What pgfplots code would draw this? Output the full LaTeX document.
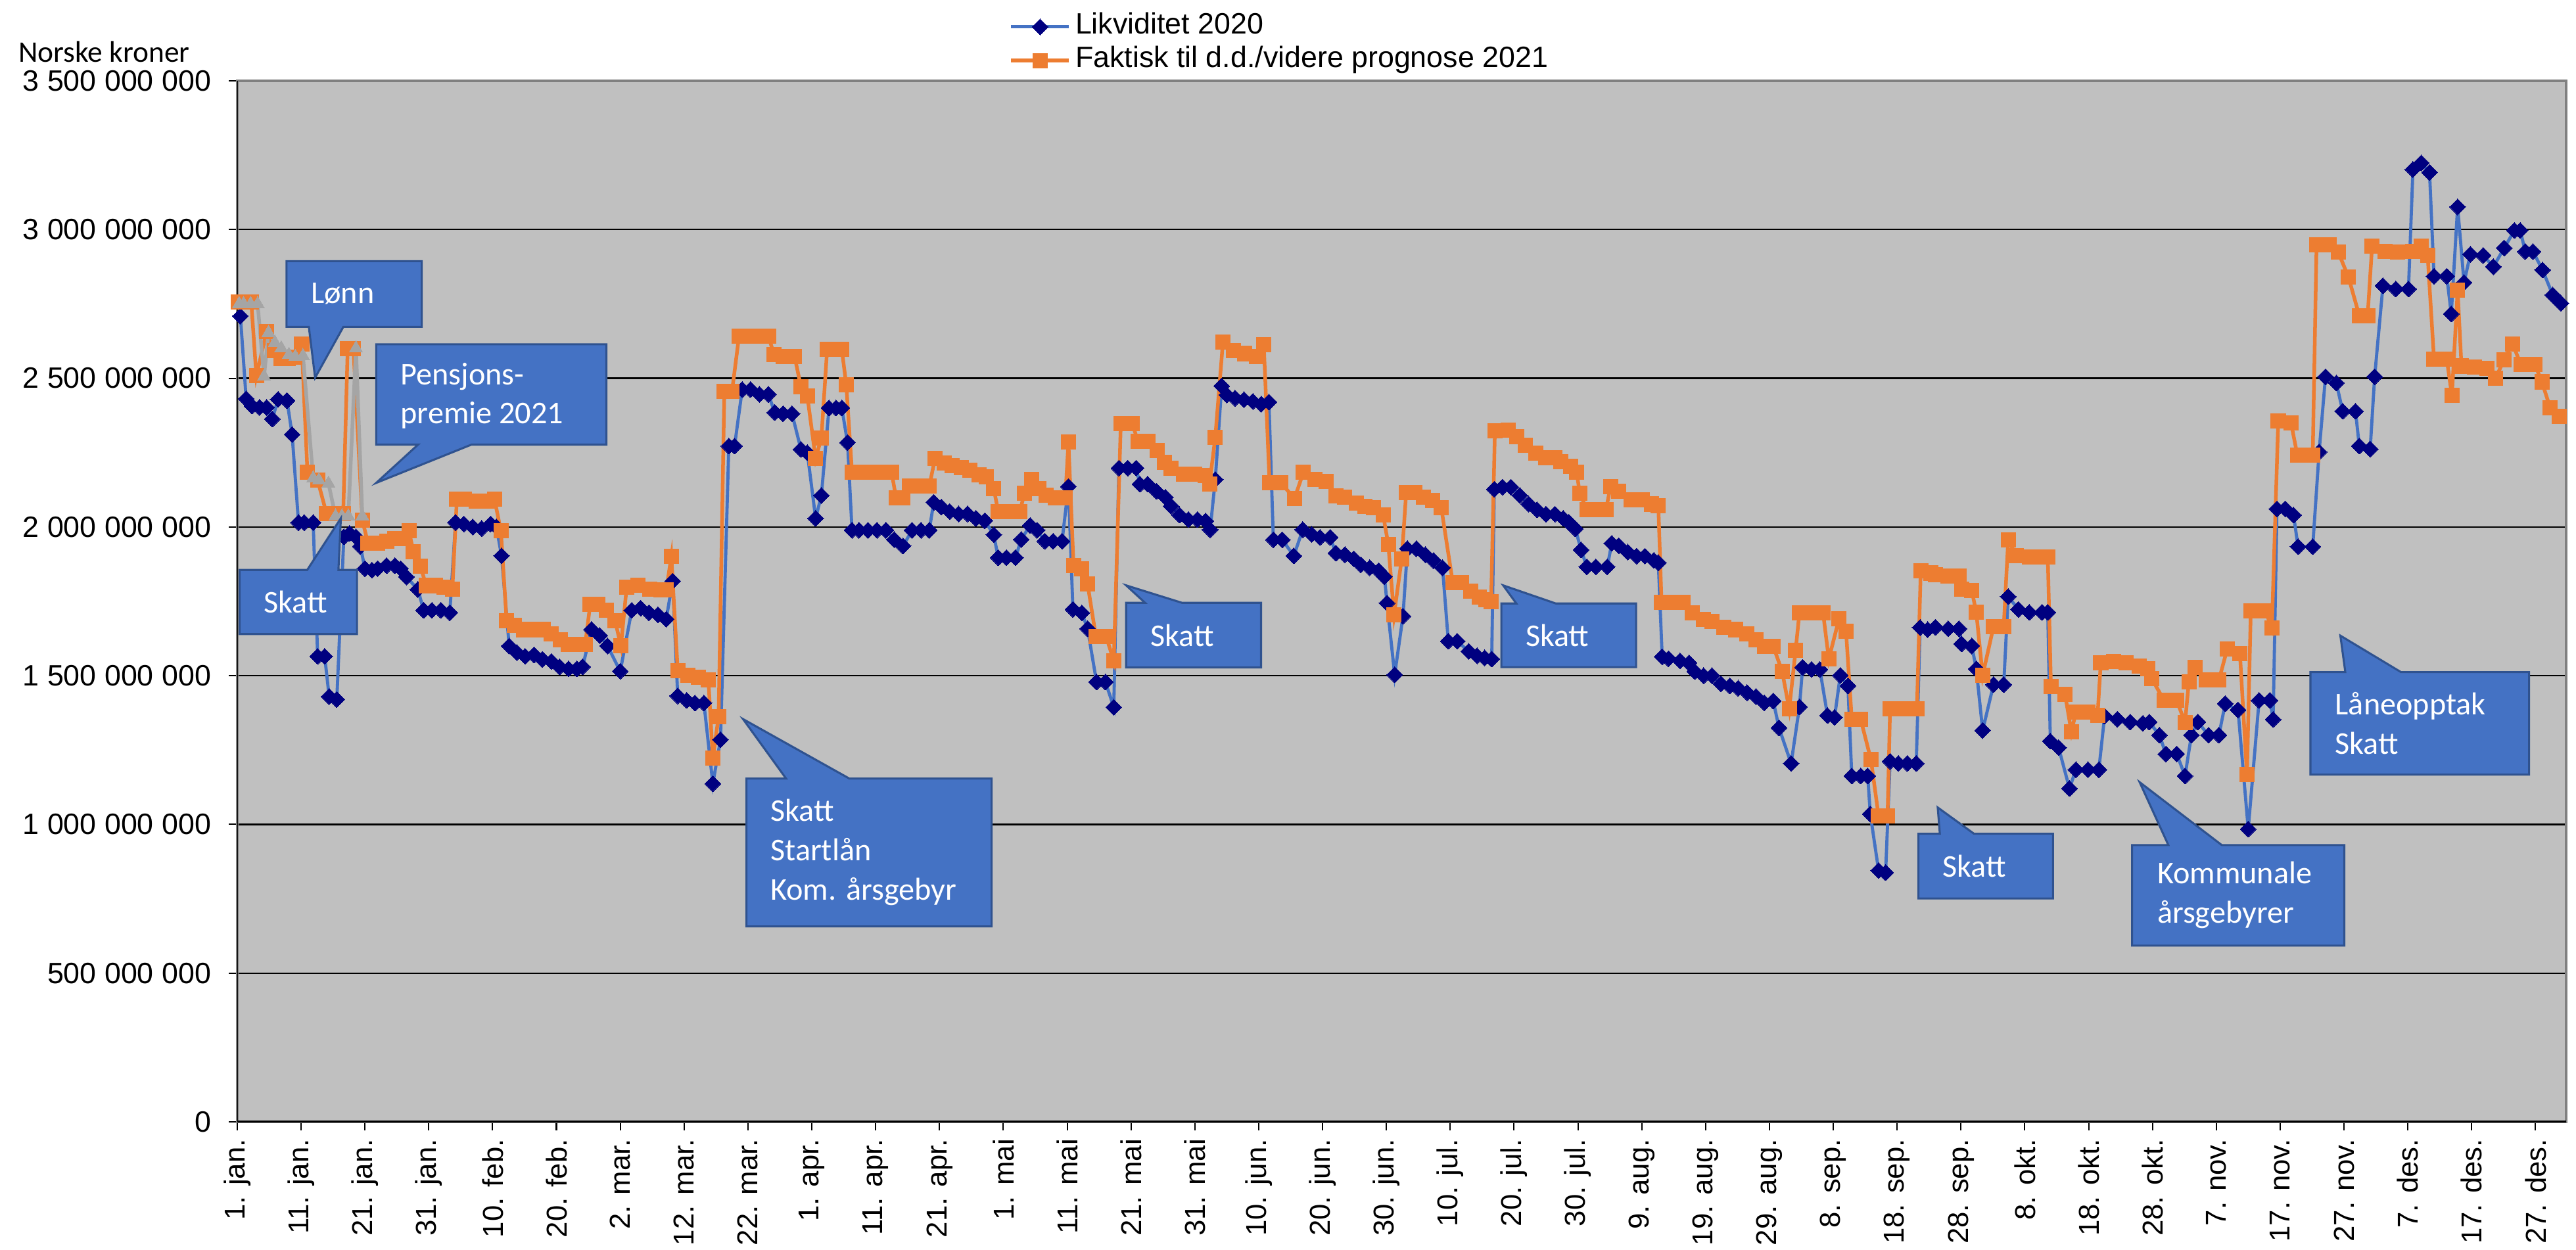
\documentclass[border=0pt]{standalone}
\usepackage{fontspec}
\setmainfont{Liberation Sans}
\newfontfamily\calloutfont{Carlito}
\usepackage{pgfplots}
\usepackage{pgfplotstable}
\pgfplotsset{compat=1.18}
\definecolor{bgGray}{HTML}{C0C0C0}
\definecolor{lineBlue}{HTML}{4472C4}
\definecolor{markNavy}{HTML}{000080}
\definecolor{orng}{HTML}{ED7D31}
\definecolor{gry}{HTML}{A5A5A5}
\definecolor{boxBlue}{HTML}{4472C4}
\definecolor{boxEdge}{HTML}{2F528F}
\definecolor{frameGray}{HTML}{808080}

\pgfplotstableread{
day val
0.5 2709
1.4 2431
2.3 2407
3.5 2402
4.6 2402
5.5 2363
6.4 2429
7.8 2425
8.6 2311
9.6 2015
10.5 2015
11.9 2015
12.6 1565
13.7 1565
14.4 1430
15.6 1420
16.7 1967
17.6 1978
18.6 1967
19.3 1935
20.0 1860
21.1 1855
22.0 1860
23.4 1870
24.7 1870
25.6 1860
26.5 1832
28.3 1790
29.2 1720
30.5 1720
31.9 1720
33.3 1712
34.2 2015
35.5 2010
36.9 2000
38.3 1995
39.7 2010
40.6 2000
41.4 1903
42.6 1600
43.8 1578
45.1 1565
46.5 1570
47.8 1555
49.2 1548
50.5 1530
51.9 1523
53.2 1523
54.1 1530
55.5 1655
56.8 1635
58.0 1600
60.0 1515
61.8 1720
63.2 1727
64.5 1712
65.9 1705
67.2 1690
68.2 1818
69.0 1432
70.4 1417
71.7 1408
73.1 1408
74.5 1137
75.7 1285
77.0 2272
77.9 2272
79.1 2462
80.4 2462
81.8 2446
83.2 2446
84.2 2385
85.5 2381
86.9 2381
88.3 2261
89.3 2250
90.6 2029
91.5 2106
92.7 2400
93.8 2400
94.7 2400
95.6 2284
96.3 1989
97.4 1989
98.8 1989
100.2 1989
101.6 1989
102.9 1958
104.3 1936
105.7 1989
107.1 1989
108.4 1989
109.1 2083
110.3 2067
111.6 2052
113.0 2044
114.4 2044
115.7 2029
117.1 2021
118.5 1974
119.2 1897
120.5 1897
121.9 1897
122.8 1958
124.2 2005
125.3 1989
126.5 1952
127.8 1952
129.2 1952
130.2 2136
130.9 1723
132.3 1711
133.2 1658
134.6 1479
136.0 1479
137.3 1394
138.1 2198
139.5 2198
140.8 2198
141.4 2144
142.6 2144
144.0 2120
145.4 2100
146.3 2070
147.6 2040
149.0 2025
150.4 2025
151.7 2020
152.4 1991
153.2 2159
154.2 2474
155.0 2444
156.3 2433
157.7 2428
159.1 2422
160.4 2413
161.6 2420
162.3 1957
163.7 1957
165.5 1903
166.9 1991
168.3 1975
169.6 1965
171.2 1965
172.1 1912
173.5 1907
174.9 1893
176.0 1873
177.4 1863
178.8 1853
179.7 1833
180.1 1744
181.3 1503
182.6 1700
183.3 1927
184.7 1927
186.1 1907
187.4 1887
188.8 1863
189.7 1616
191.1 1616
192.9 1582
194.2 1567
195.4 1560
196.5 1556
196.9 2127
198.2 2134
199.5 2134
200.9 2106
202.3 2077
203.6 2058
205.0 2043
206.4 2043
207.7 2029
208.6 2015
209.6 1994
210.5 1923
211.4 1866
212.8 1866
214.6 1866
215.3 1945
216.4 1937
217.8 1916
219.2 1902
220.5 1902
221.9 1888
222.6 1880
223.2 1564
224.2 1557
226.0 1550
227.4 1543
228.3 1514
229.7 1500
231.0 1500
232.4 1473
233.8 1466
235.1 1458
236.5 1443
237.9 1430
239.2 1409
240.6 1415
241.5 1325
243.4 1205
244.7 1395
245.2 1528
246.6 1521
247.9 1521
249.1 1366
250.2 1360
251.1 1501
252.3 1466
252.9 1163
254.3 1163
255.4 1163
255.8 1035
257.1 845
258.2 838
258.9 1212
260.2 1205
261.6 1205
263.0 1205
263.6 1662
264.8 1655
266.0 1663
268.0 1658
269.7 1658
270.1 1607
271.7 1600
272.4 1523
273.4 1316
275.1 1470
276.7 1470
277.4 1766
279.0 1723
280.7 1713
282.7 1713
283.6 1713
284.0 1280
285.3 1258
287.0 1121
288.0 1184
289.9 1184
291.6 1184
292.5 1364
294.5 1354
296.5 1344
298.5 1340
299.5 1344
301.1 1300
302.1 1237
303.8 1237
305.1 1163
306.1 1300
307.1 1344
308.8 1300
310.4 1300
311.4 1406
313.4 1385
315.0 984
316.7 1417
318.4 1417
318.9 1353
319.5 2061
320.8 2061
322.1 2040
322.8 1934
325.1 1934
326.1 2252
327.1 2505
328.8 2484
329.8 2389
331.8 2389
332.4 2272
334.1 2262
334.8 2505
336.1 2811
338.1 2800
340.1 2800
340.8 3202
342.1 3224
343.4 3192
344.1 2843
346.1 2843
346.8 2716
347.8 3076
348.8 2822
349.8 2917
351.8 2913
353.4 2875
355.1 2938
356.7 2997
357.6 2997
358.4 2926
359.6 2926
361.1 2864
362.7 2780
364.0 2752
}\likviditet

\pgfplotstableread{
day val
0.2 2756
1.2 2756
2.2 2756
3.0 2508
4.6 2656
5.8 2592
6.9 2566
8.0 2566
9.0 2570
10.1 2614
11.0 2184
12.6 2157
14.0 2044
15.6 2044
16.6 2044
17.3 2600
18.2 2600
19.6 2022
20.5 1945
22.0 1945
23.4 1952
24.7 1960
26.1 1960
26.9 1987
27.6 1916
28.7 1868
29.6 1803
31.0 1803
32.4 1797
33.7 1790
34.4 2093
35.6 2093
37.4 2086
39.2 2086
40.3 2093
41.3 1987
42.2 1684
43.4 1670
44.8 1655
46.6 1655
47.9 1655
49.2 1640
50.6 1620
51.9 1605
53.3 1605
54.5 1605
55.3 1741
56.5 1741
57.8 1720
59.2 1684
60.1 1600
61.0 1797
62.8 1805
64.6 1790
66.4 1788
67.2 1788
68.0 1901
69.0 1517
70.6 1501
72.2 1494
73.8 1487
74.5 1223
75.4 1362
76.3 2455
77.5 2455
78.6 2641
80.0 2641
81.4 2641
83.2 2641
84.1 2579
85.5 2574
87.3 2574
88.3 2471
89.3 2440
90.6 2230
91.5 2299
92.4 2597
93.8 2597
94.7 2597
95.4 2478
96.3 2184
97.9 2184
99.3 2184
101.1 2184
102.5 2184
103.2 2098
104.3 2098
105.3 2137
106.6 2137
108.4 2137
109.3 2230
110.7 2215
112.0 2206
113.4 2199
114.8 2191
116.2 2175
117.3 2168
118.5 2129
119.2 2052
120.8 2052
122.6 2052
123.3 2113
124.4 2160
125.6 2129
126.7 2106
128.1 2098
129.7 2098
130.2 2285
131.0 1870
132.3 1860
133.2 1808
134.5 1632
136.1 1632
137.3 1550
138.4 2347
140.2 2348
141.1 2287
142.7 2287
144.1 2257
145.2 2218
146.3 2198
148.2 2178
150.0 2178
151.6 2173
152.3 2144
153.2 2302
154.4 2622
156.0 2593
157.8 2583
159.7 2573
160.8 2612
161.7 2149
163.5 2149
165.6 2095
167.0 2184
168.8 2159
170.6 2154
172.1 2104
173.4 2100
175.3 2080
176.6 2070
178.0 2065
179.5 2040
180.3 1941
181.2 1705
182.4 1892
183.1 2115
184.5 2115
185.8 2100
187.2 2090
188.6 2065
190.4 1813
191.8 1813
193.2 1784
194.6 1764
195.6 1755
196.4 1749
197.0 2323
199.1 2325
200.4 2303
201.8 2275
203.4 2248
205.0 2233
206.4 2233
207.3 2219
208.9 2205
209.8 2184
210.3 2113
211.4 2058
212.8 2058
214.4 2058
215.1 2135
216.4 2121
218.3 2092
220.1 2092
221.5 2077
222.6 2071
223.1 1747
224.7 1747
226.5 1747
227.9 1712
229.7 1690
231.0 1683
232.9 1662
234.7 1655
236.5 1641
237.9 1620
239.2 1599
240.6 1599
242.0 1514
243.1 1388
244.1 1585
244.7 1712
246.6 1712
248.4 1712
249.3 1556
250.9 1691
252.0 1649
252.9 1353
254.3 1353
255.9 1218
257.1 1028
258.5 1028
258.9 1388
260.8 1388
263.1 1388
263.7 1852
265.3 1845
266.0 1840
268.0 1835
269.7 1835
270.1 1790
271.7 1786
272.4 1713
273.4 1501
275.1 1665
276.7 1665
277.4 1956
278.7 1903
280.7 1900
282.7 1900
283.6 1900
284.1 1463
286.3 1438
287.3 1311
288.0 1377
289.9 1377
291.4 1367
291.9 1543
293.9 1547
295.9 1543
297.9 1533
299.3 1523
299.9 1490
301.8 1417
303.8 1417
305.1 1342
305.7 1480
306.7 1527
308.4 1485
310.4 1485
311.7 1589
313.7 1575
314.8 1167
315.4 1717
317.7 1717
318.7 1660
319.7 2357
321.7 2350
322.7 2241
325.1 2241
325.7 2949
327.7 2949
329.1 2924
330.7 2840
332.4 2710
333.7 2710
334.4 2944
336.4 2927
338.4 2924
340.8 2927
342.1 2944
343.1 2913
344.1 2564
346.1 2564
346.9 2442
347.8 2797
348.4 2541
350.4 2537
352.4 2533
353.7 2500
355.1 2562
356.4 2616
357.7 2546
359.9 2546
361.0 2488
362.3 2400
363.7 2372
}\faktisk

\pgfplotstableread{
day val
0.3 2750
1.0 2750
2.1 2750
3.2 2750
4.2 2506
4.9 2653
5.9 2620
6.9 2601
8.1 2579
9.1 2572
10.3 2575
11.9 2164
12.8 2157
14.3 2146
15.4 2036
16.4 2036
17.4 2036
18.6 2601
19.6 2036
}\graa

\newcommand{\boxdown}[8]{% x1 y1 x2 y2 b1 b2 tipx tipy (pointer at bottom)
  \path[fill=boxBlue, draw=boxEdge, line width=0.9pt, line join=miter]
    (#1,#2) -- (#3,#2) -- (#3,#4) -- (#6,#4) -- (#7,#8) -- (#5,#4) -- (#1,#4) -- cycle;}
\newcommand{\boxup}[8]{% x1 y1 x2 y2 b1 b2 tipx tipy (pointer at top)
  \path[fill=boxBlue, draw=boxEdge, line width=0.9pt, line join=miter]
    (#1,#2) -- (#5,#2) -- (#7,#8) -- (#6,#2) -- (#3,#2) -- (#3,#4) -- (#1,#4) -- cycle;}
\newcommand{\boxtext}[3]{\node[anchor=west, inner sep=0pt, text=white, align=left,
  font=\calloutfont\fontsize{14pt}{17.4pt}\selectfont] at (#1,#2) {#3};}

\begin{document}
\begin{tikzpicture}
\begin{axis}[
  scale only axis, width=361.63mm, height=161.68mm,
  xmin=0, xmax=364.8, ymin=0, ymax=3500,
  axis background/.style={fill=bgGray},
  axis line style={draw=frameGray, line width=1.1pt},
  ymajorgrids, major grid style={black, line width=0.7pt},
  xtick={0,10,...,360},
  xticklabels={1. jan.,11. jan.,21. jan.,31. jan.,10. feb.,20. feb.,2. mar.,12. mar.,22. mar.,1. apr.,11. apr.,21. apr.,1. mai,11. mai,21. mai,31. mai,10. jun.,20. jun.,30. jun.,10. jul.,20. jul.,30. jul.,9. aug.,19. aug.,29. aug.,8. sep.,18. sep.,28. sep.,8. okt.,18. okt.,28. okt.,7. nov.,17. nov.,27. nov.,7. des.,17. des.,27. des.},
  ytick={0,500,...,3500},
  yticklabels={0,500 000 000,1 000 000 000,1 500 000 000,2 000 000 000,2 500 000 000,3 000 000 000,3 500 000 000},
  tick pos=left, tick align=outside, major tick length=1.3mm,
  tick style={black, line width=0.6pt},
  xticklabel style={rotate=90, anchor=east, inner sep=0pt, font=\fontsize{12.7pt}{14pt}\selectfont},
  xticklabel shift=1.3mm,
  yticklabel style={anchor=east, inner sep=0pt, font=\fontsize{13pt}{15pt}\selectfont},
  yticklabel shift=2.7mm,
  ylabel={Norske kroner},
  ylabel style={rotate=-90, anchor=base west, inner sep=0pt, at={(axis description cs:-0.0941,1.0177)}, font=\calloutfont\fontsize{13.2pt}{15pt}\selectfont},
  legend style={at={(axis description cs:0.3313,1)}, anchor=south west, yshift=0.45mm,
    draw=none, fill=none, inner sep=0pt, row sep=0pt,
    font=\fontsize{13pt}{15pt}\selectfont,
    nodes={inner ysep=0pt, text height=10.5pt, text depth=4.4pt}},
  legend cell align=left,
  legend image code/.code={\draw[mark repeat=2, mark phase=2, #1] plot coordinates {(0mm,0mm) (4.5mm,0mm) (9.0mm,0mm)};},
]
\addplot[color=lineBlue, line width=1.4pt, mark=square*, mark size=2.5pt,
  mark options={rotate=45, fill=markNavy, draw=markNavy, line width=0pt}] table[x=day, y=val] {\likviditet};
\addlegendentry{Likviditet 2020}
\addplot[color=orng, line width=1.6pt, mark=square*, mark size=3.2pt,
  mark options={fill=orng, draw=orng, line width=0pt}] table[x=day, y=val] {\faktisk};
\addlegendentry{Faktisk til d.d./videre prognose 2021}
\addplot[forget plot, color=gry, line width=1.6pt, mark=triangle*, mark size=3.4pt,
  mark options={fill=gry, draw=gry, line width=0pt}] table[x=day, y=val] {\graa};
\draw[black, line width=0.9pt] (rel axis cs:0,0) -- (rel axis cs:0,1);
\draw[black, line width=1.0pt] (rel axis cs:0,0) -- (rel axis cs:1,0);
\end{axis}
\begin{scope}[x=0.2551mm, y=-0.2551mm, xshift=-36.836mm, yshift=174.233mm]
  \boxdown{174.4}{159}{256.7}{199}{188}{209}{191.8}{230}
  \boxtext{189}{179}{Lønn}
  \boxdown{229}{209.6}{369.1}{270.7}{254.5}{287}{229}{294}
  \boxtext{243.6}{241}{Pensjons-\\premie 2021}
  \boxup{145.9}{347}{217.3}{386}{187}{206}{207.5}{315.5}
  \boxtext{160.4}{366.5}{Skatt}
  \boxup{454.4}{474}{603.6}{564}{478.5}{517}{452.3}{437.8}
  \boxtext{468.8}{519}{Skatt\\Startlån\\Kom. årsgebyr}
  \boxup{685.5}{367}{767.6}{406.4}{697}{719.5}{685.5}{356.4}
  \boxtext{700}{386.7}{Skatt}
  \boxup{913.9}{367.4}{995.9}{406.2}{923}{947}{915}{356.4}
  \boxtext{928.4}{386.8}{Skatt}
  \boxup{1167.8}{507.6}{1249.7}{547}{1180.8}{1201.6}{1179.5}{491.6}
  \boxtext{1182.3}{527.3}{Skatt}
  \boxup{1297.8}{514.5}{1427}{575.7}{1319.9}{1352.4}{1302.4}{476.2}
  \boxtext{1312.9}{545.1}{Kommunale\\årsgebyrer}
  \boxup{1406.4}{409.2}{1539.5}{471.6}{1427.6}{1461.5}{1424.6}{387}
  \boxtext{1421.2}{440.4}{Låneopptak\\Skatt}
\end{scope}
\pgfresetboundingbox
\path[use as bounding box] (-36.836mm,-19.898mm) rectangle (363.164mm,174.233mm);
\end{tikzpicture}
\end{document}
